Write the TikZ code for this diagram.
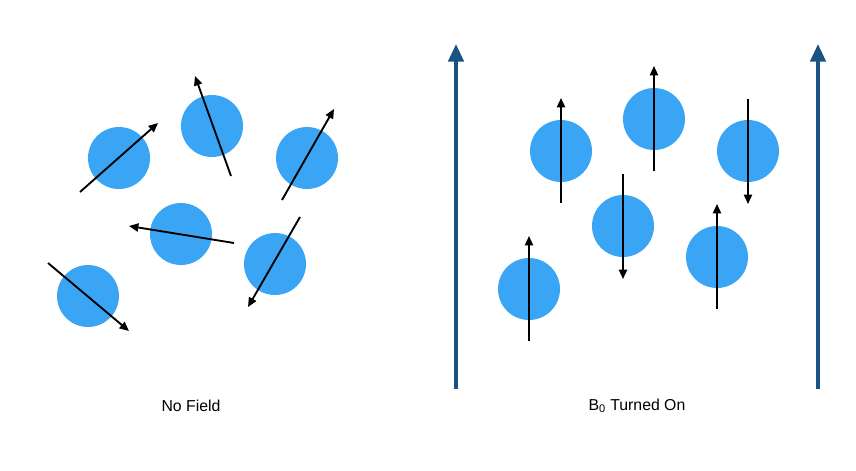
\documentclass[tikz,border=0pt]{standalone}
\usepackage{fontspec}
\setmainfont{Liberation Sans}
\usetikzlibrary{arrows.meta}
\definecolor{spinblue}{RGB}{59,165,245}
\definecolor{fieldblue}{RGB}{26,82,130}
\begin{document}
\begin{tikzpicture}[
		x=0.03cm, y=-0.03cm,
		spin/.style={circle, fill=spinblue, minimum size=62*0.03cm, inner sep=0},
		moment/.style={line width=1.6pt, -{Triangle[length=8pt,width=7pt]}},
		field/.style={draw=fieldblue, line width=3pt, -{Triangle[length=15pt,width=13pt]}},
		caption/.style={font=\fontsize{13.5}{16}\selectfont}
	]
		\useasboundingbox (0,0) rectangle (856,471);
		% no field
		\path
			(119,158) node[spin](a1){}
			(212,126) node[spin](a2){}
			(307,158) node[spin](a3){}
			(181,234) node[spin](a4){}
			(275,264) node[spin](a5){}
			(88,296) node[spin](a6){}
		;
		\coordinate (a1s) at (80,192);  \coordinate (a1e) at (158,123);
		\coordinate (a2s) at (231,176); \coordinate (a2e) at (195,76);
		\coordinate (a3s) at (282,200); \coordinate (a3e) at (334,109);
		\coordinate (a4s) at (234,243); \coordinate (a4e) at (129,226);
		\coordinate (a5s) at (300,217); \coordinate (a5e) at (248,307);
		\coordinate (a6s) at (48,263);  \coordinate (a6e) at (129,331);
		\foreach \i in {1,...,6}
			\draw[moment] (a\i s) -- (a\i e);
		\node[caption] (nofield) at (191,406) {No Field};
		% field on
		\coordinate (f1s) at (456,389); \coordinate (f1e) at (456,44);
		\coordinate (f2s) at (818,389); \coordinate (f2e) at (818,44);
		\draw[field] (f1s) -- (f1e);
		\draw[field] (f2s) -- (f2e);
		\path
			(561,151) node[spin](b1){}
			(654,119) node[spin](b2){}
			(748,151) node[spin](b3){}
			(623,226) node[spin](b4){}
			(717,257) node[spin](b5){}
			(529,289) node[spin](b6){}
		;
		\foreach \n/\d in {b1/1,b2/1,b3/-1,b4/-1,b5/1,b6/1}
			\draw[moment] ([yshift=-\d*52*0.03cm]\n.center) -- ([yshift=\d*53*0.03cm]\n.center);
		\node[caption] (fieldon) at (637,406) {B\textsubscript{0} Turned On};
	\end{tikzpicture}
\end{document}
